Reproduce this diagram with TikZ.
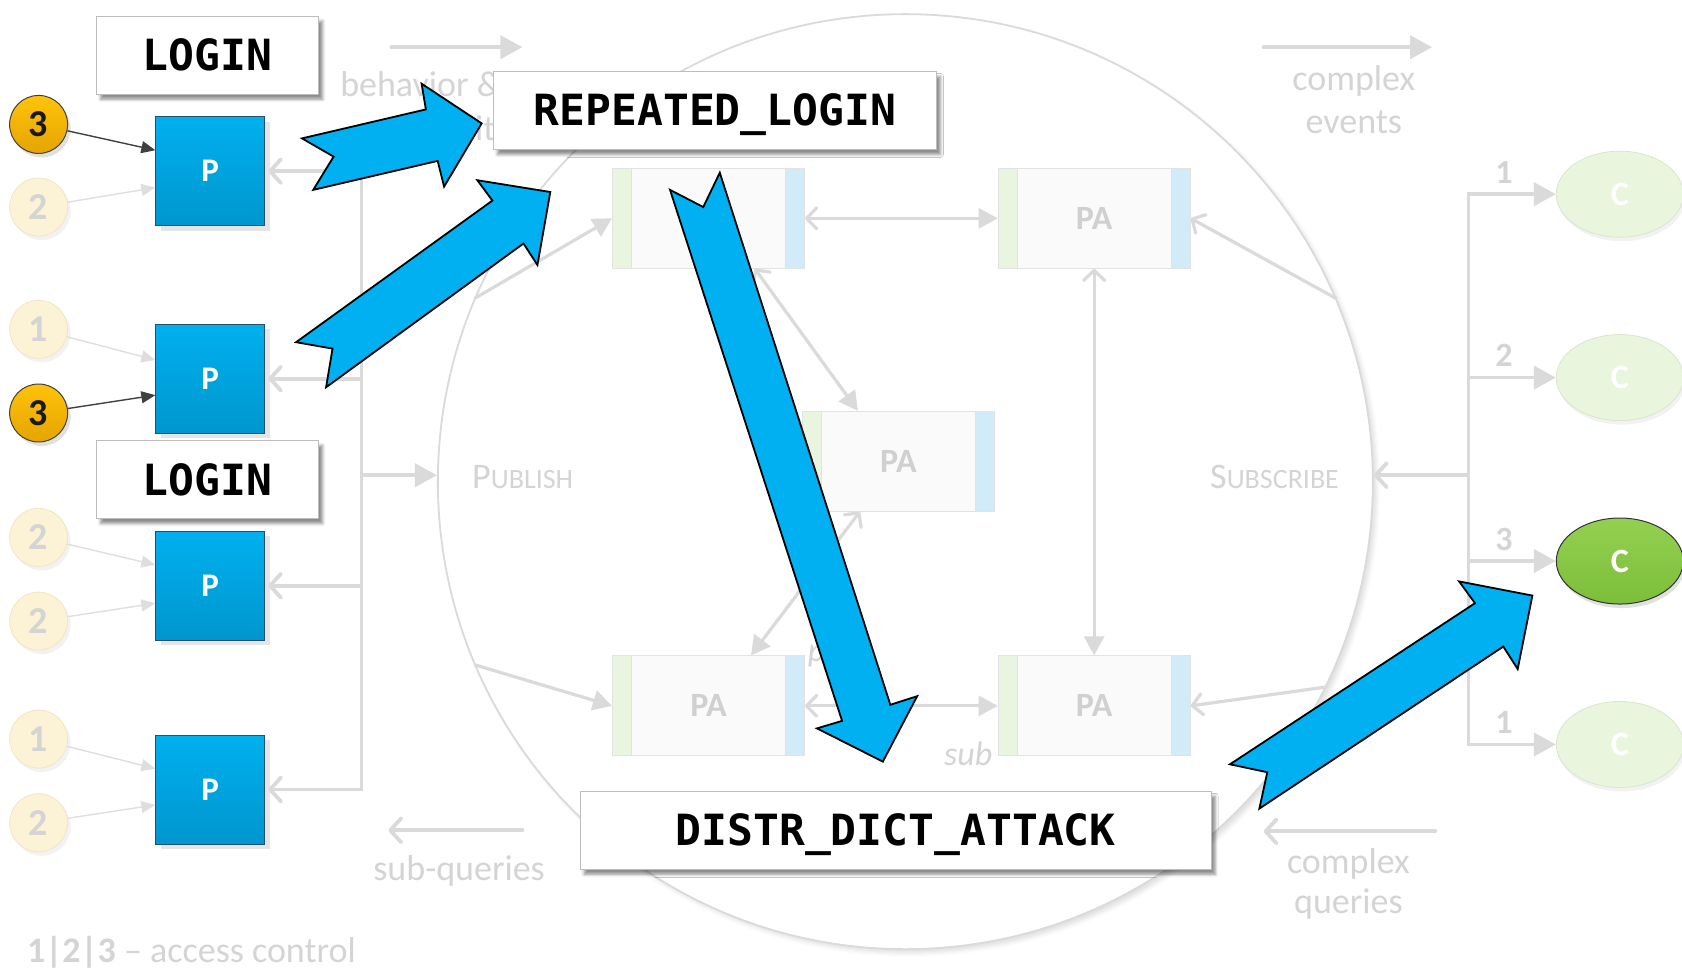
\documentclass[tikz,border=0pt]{standalone}
\usepackage{fontspec}
\setmainfont{Carlito}
\newfontfamily\codefont{DejaVu Sans Mono}
\usetikzlibrary{arrows.meta,shadows,shadows.blur,calc,shapes.geometric}

\definecolor{ghost}{HTML}{DADADA}
\definecolor{ghosttext}{HTML}{D4D4D4}
\definecolor{patext}{HTML}{D0D0D0}
\definecolor{pbluetop}{HTML}{00B0EE}
\definecolor{pbluebot}{HTML}{0096CF}
\definecolor{pborder}{HTML}{24506F}
\definecolor{goldtop}{HTML}{FFC30A}
\definecolor{goldbot}{HTML}{E4A500}
\definecolor{cream}{HTML}{FCF2D6}
\definecolor{creamline}{HTML}{F2E5C3}
\definecolor{paleg}{HTML}{E9F5DD}
\definecolor{palegline}{HTML}{D9E6CC}
\definecolor{greentop}{HTML}{94D050}
\definecolor{greenbot}{HTML}{7CBE3A}
\definecolor{stripg}{HTML}{EAF5E0}
\definecolor{stripb}{HTML}{D1ECF8}
\definecolor{paline}{HTML}{E2E2E2}
\definecolor{boxline}{HTML}{BDBDBD}
\definecolor{arrowblue}{HTML}{00B0F0}
\definecolor{darkarrow}{HTML}{404040}
\definecolor{fadearrow}{HTML}{DEDEDE}

\newcommand\lblsize{\fontsize{36}{40}\selectfont}
\newcommand\codebig{\codefont\bfseries\fontsize{43}{43}\selectfont}

\tikzset{
  gtri/.tip={Triangle[length=22pt,width=23pt]},
  gtrismall/.tip={Triangle[length=19pt,width=20pt]},
  gbarb/.tip={Straight Barb[length=11pt,width=24pt,round]},
  gbarbsmall/.tip={Straight Barb[length=10pt,width=21pt,round]},
  dtri/.tip={Triangle[length=14pt,width=12pt]},
  trunkline/.style={draw=ghost, line width=3.8pt},
  innerline/.style={draw=ghost, line width=3.2pt},
  lbl/.style={text=ghosttext, font=\lblsize, inner sep=0pt},
  numlbl/.style={text=ghosttext, font=\bfseries\fontsize{34}{34}\selectfont, inner sep=0pt},
  codebox/.style={draw=boxline, fill=white, line width=1.3pt, font=\codebig,
    inner sep=0pt, minimum height=78pt, text height=31pt, text depth=0pt,
    blur shadow={shadow xshift=4pt, shadow yshift=-5pt, shadow blur radius=3pt, shadow opacity=45}},
  pbox/.style={draw=pborder, line width=0.8pt, top color=pbluetop, bottom color=pbluebot,
    minimum width=109pt, minimum height=109pt, inner sep=0pt, text=white,
    font=\bfseries\fontsize{33}{33}\selectfont,
    drop shadow={shadow xshift=5pt, shadow yshift=-5pt, fill=black!10, opacity=1}},
  goldc/.style={circle, draw=darkarrow, line width=1pt, top color=goldtop, bottom color=goldbot,
    minimum size=58pt, inner sep=0pt, text=black!90, font=\bfseries\fontsize{38}{38}\selectfont,
    drop shadow={shadow xshift=3pt, shadow yshift=-4pt, fill=black!12, opacity=1}},
  fadec/.style={circle, draw=creamline, line width=0.8pt, fill=cream,
    minimum size=58pt, inner sep=0pt, text=ghosttext, font=\bfseries\fontsize{38}{38}\selectfont,
    drop shadow={shadow xshift=3pt, shadow yshift=-4pt, fill=black!5, opacity=1}},
  pabox/.style={draw=paline, line width=1pt, fill=white!98!black,
    minimum width=192pt, minimum height=100pt, inner sep=0pt, text=patext,
    font=\bfseries\fontsize{34}{34}\selectfont,
    path picture={
      \fill[stripg] (path picture bounding box.north west) rectangle ([xshift=19pt]path picture bounding box.south west);
      \fill[stripb] ([xshift=-19pt]path picture bounding box.north east) rectangle (path picture bounding box.south east);
      \draw[paline, line width=1pt] ([xshift=19pt]path picture bounding box.north west) -- ([xshift=19pt]path picture bounding box.south west);
      \draw[paline, line width=1pt] ([xshift=-19pt]path picture bounding box.north east) -- ([xshift=-19pt]path picture bounding box.south east);
    }},
  fadee/.style={ellipse, draw=palegline, line width=0.8pt, fill=paleg,
    minimum width=127pt, minimum height=86pt, inner sep=0pt, text=white,
    font=\bfseries\fontsize{34}{34}\selectfont,
    drop shadow={shadow xshift=2pt, shadow yshift=-4pt, fill=black!5, opacity=1}},
  livee/.style={ellipse, draw=black!80, line width=1pt, top color=greentop, bottom color=greenbot,
    minimum width=127pt, minimum height=86pt, inner sep=0pt, text=white,
    font=\bfseries\fontsize{34}{34}\selectfont,
    drop shadow={shadow xshift=2pt, shadow yshift=-4pt, fill=black!12, opacity=1}},
  ringstyle/.style={circle, draw=ghost, line width=1.8pt, fill=white, minimum size=935pt, inner sep=0pt,
    blur shadow={shadow xshift=4pt, shadow yshift=-4pt, shadow blur radius=4pt, shadow opacity=12}},
  blockarrow/.style={fill=arrowblue, draw=black, line width=1.8pt, line join=miter},
  darkin/.style={draw=darkarrow, line width=1.4pt, -dtri},
  fadein/.style={draw=fadearrow, line width=1.4pt, -dtri},
}

\begin{document}
\begin{tikzpicture}[x=1.0727pt, y=-1.0727pt]
\useasboundingbox (0,0) rectangle (1568,907);

% the processing ring
\node[ringstyle] (ring) at (844,449) {};

% legend arrows and their captions
\coordinate (bhA) at (365,44);   \coordinate (bhB) at (487,44);
\coordinate (ceA) at (1178,44);  \coordinate (ceB) at (1335,44);
\coordinate (sqA) at (487,774);  \coordinate (sqB) at (362,774);
\coordinate (cqA) at (1338,775); \coordinate (cqB) at (1178,775);
\draw[trunkline, line cap=round, -gtri] (bhA) -- (bhB);
\draw[trunkline, line cap=round, -gtri] (ceA) -- (ceB);
\draw[trunkline, line cap=round, -gbarb] (sqA) -- (sqB);
\draw[trunkline, line cap=round, -gbarb] (cqA) -- (cqB);
\node[lbl, anchor=base west] (beh) at (317,90) {behavior \&};
\node[lbl, anchor=base east] (beh2) at (462,131) {it};
\node[lbl, anchor=base] (ce1) at (1262,84) {complex};
\node[lbl, anchor=base] (ce2) at (1262,124) {events};
\node[lbl, anchor=base] (sq) at (428,821) {sub-queries};
\node[lbl, anchor=base] (cq1) at (1257,814) {complex};
\node[lbl, anchor=base] (cq2) at (1257,852) {queries};
\node[lbl, anchor=base west] (pubtxt) at (440,455) {P{\fontsize{28}{30}\selectfont UBLISH}};
\node[lbl, anchor=base west] (subtxt) at (1128,455) {S{\fontsize{28}{30}\selectfont UBSCRIBE}};
\node[lbl, anchor=base west] (legend) at (25,897) {\textbf{1|2|3} -- access control};

% processing agents
\node[pabox] (pa1) at (660.5,203.5) {};
\node[pabox] (pa2) at (1020,203.5) {PA};
\node[pabox] (pa3) at (837.5,430) {PA};
\node[pabox] (pa4) at (660.5,658) {PA};
\node[pabox] (pa5) at (1020,658) {PA};

\node[lbl, font=\itshape\fontsize{34}{34}\selectfont, anchor=base west] (subl) at (880,714) {sub};
\node[lbl, font=\itshape\fontsize{34}{34}\selectfont, anchor=base west] (publ) at (753,617) {pub};

% links between the agents
\draw[innerline, gbarbsmall-gtrismall] (pa1.east) -- (pa2.west);
\draw[innerline, gbarbsmall-gtrismall] (pa2.south) -- (pa5.north);
\draw[innerline, gbarbsmall-gtrismall] (pa4.east) -- (pa5.west);
\draw[innerline, gbarbsmall-gtrismall] ($(pa1.south west)!0.74!(pa1.south east)$) -- ($(pa3.north west)!0.29!(pa3.north east)$);
\draw[innerline, gbarbsmall-gtrismall] ($(pa3.south west)!0.30!(pa3.south east)$) -- ($(pa4.north west)!0.72!(pa4.north east)$);
\draw[innerline, -gtrismall] (ring.157) -- (pa1.west);
\draw[innerline, -gtrismall] (ring.203) -- (pa4.west);
\draw[innerline, -gbarbsmall] (ring.23) -- (pa2.east);
\draw[innerline, -gbarbsmall] (ring.334) -- (pa5.east);

% producers
\node[pbox] (p1) at (196,159.5) {P};
\node[pbox] (p2) at (196,353) {P};
\node[pbox] (p3) at (196,546) {P};
\node[pbox] (p4) at (196,736) {P};

% publish bus
\coordinate (lt1) at (337,159.5);
\coordinate (lt4) at (337,736);
\coordinate (lt2) at (337,353);
\coordinate (lt3) at (337,546);
\coordinate (ltm) at (337,443);
\draw[trunkline, gbarb-gbarb, shorten <=3pt, shorten >=3pt] (p1.east) -- (lt1) -- (lt4) -- (p4.east);
\draw[trunkline, -gbarb, shorten >=3pt] (lt2) -- (p2.east);
\draw[trunkline, -gbarb, shorten >=3pt] (lt3) -- (p3.east);
\draw[trunkline, -gtri] (ltm) -- (ltm -| ring.west);

% access levels
\node[goldc] (a1) at (36,116) {3};
\node[fadec] (a2) at (36,193) {2};
\node[fadec] (a3) at (36,307) {1};
\node[goldc] (a4) at (36,385) {3};
\node[fadec] (a5) at (36,501) {2};
\node[fadec] (a6) at (36,579) {2};
\node[fadec] (a7) at (36,689) {1};
\node[fadec] (a8) at (36,767) {2};
\draw[darkin] (a1) -- ($(p1.north west)!0.31!(p1.south west)$);
\draw[fadein] (a2) -- ($(p1.north west)!0.65!(p1.south west)$);
\draw[fadein] (a3) -- ($(p2.north west)!0.33!(p2.south west)$);
\draw[darkin] (a4) -- ($(p2.north west)!0.65!(p2.south west)$);
\draw[fadein] (a5) -- ($(p3.north west)!0.31!(p3.south west)$);
\draw[fadein] (a6) -- ($(p3.north west)!0.66!(p3.south west)$);
\draw[fadein] (a7) -- ($(p4.north west)!0.31!(p4.south west)$);
\draw[fadein] (a8) -- ($(p4.north west)!0.64!(p4.south west)$);

% consumers
\node[fadee] (c1) at (1510,181) {C};
\node[fadee] (c2) at (1510,352) {C};
\node[livee] (c3) at (1510,523) {C};
\node[fadee] (c4) at (1510,694) {C};
\coordinate (rt1) at (1369,181);
\coordinate (rt2) at (1369,352);
\coordinate (rt3) at (1369,523);
\coordinate (rt4) at (1369,694);
\coordinate (rtm) at (1369,443);
\draw[trunkline, gtri-gtri] (c1.west) -- (rt1) -- (rt4) -- (c4.west);
\draw[trunkline, -gtri] (rt2) -- (c2.west);
\draw[trunkline, -gtri] (rt3) -- (c3.west);
\draw[trunkline, -gbarb] (rtm) -- (rtm -| ring.east);
\node[numlbl, anchor=base] (n1) at (1402,171) {1};
\node[numlbl, anchor=base] (n2) at (1402,342) {2};
\node[numlbl, anchor=base] (n3) at (1402,513) {3};
\node[numlbl, anchor=base] (n4) at (1402,684) {1};

% event pattern labels
\node[codebox, minimum width=222pt] (login1) at (193.5,51.5) {LOGIN};
\node[codebox, minimum width=222pt] (login2) at (193.5,447) {LOGIN};

% flow of the detected pattern
\draw[blockarrow] (281.5,129) -- (311,146) -- (292,177) -- (408,150) -- (414,174)
  -- (449,115) -- (393,78) -- (397,102) -- cycle;
\draw[blockarrow] (276,319) -- (310,325) -- (304,361) -- (488,227) -- (501,247)
  -- (513,179) -- (445,168) -- (459,187) -- cycle;
\draw[blockarrow] (624.6,177) -- (785,672) -- (761.6,679) -- (823,710) -- (855,649)
  -- (830,657) -- (671,161) -- (655.6,193) -- cycle;
\draw[blockarrow] (1146.6,712.5) -- (1375,562.3) -- (1360.2,542) -- (1428.5,555.2)
  -- (1414.8,623.7) -- (1401.4,602.7) -- (1174,753.8) -- (1181.4,719.9) -- cycle;

\node[codebox, minimum width=443pt] (rep) at (666.5,103) {REPEATED\_LOGIN};
\node[codebox, minimum width=631pt] (ddict) at (835,774) {DISTR\_DICT\_ATTACK};
\end{tikzpicture}
\end{document}
